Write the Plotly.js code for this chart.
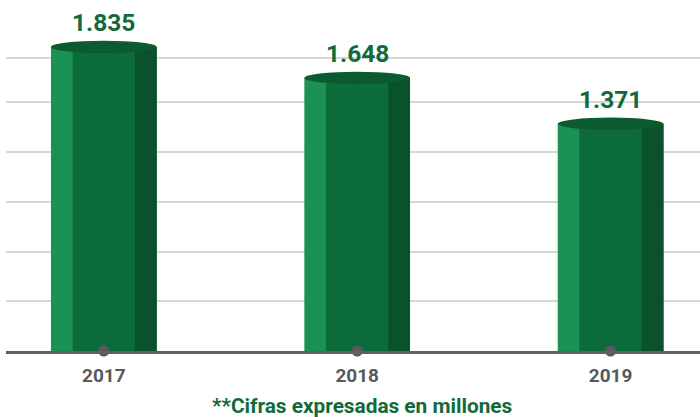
<!DOCTYPE html>
<html>
<head>
<meta charset="utf-8">
<script src="https://cdn.plot.ly/plotly-3.0.1.min.js"></script>
<style>
html,body{margin:0;padding:0;background:#fff;}
#chart{width:700px;height:417px;}
</style>
</head>
<body>
<div id="chart"></div>
<script>
// Data
const years = ['2017', '2018', '2019'];
const values = [1835, 1648, 1371];          // millions
const gridValues = [300, 600, 900, 1200, 1500, 1770];
const footnote = '**Cifras expresadas en millones';

// Styles
const LIGHT = '#1b9153', MID = '#0c6b3a', DARK = '#09522b', TOP = '#0b5b2f';
const GREEN_TEXT = '#0f6b3a', GRAY = '#58595b';
const BAR_W = 0.417, SIDE_W = 0.0856;

function fmt(v) {
  const s = String(Math.round(v));
  return s.replace(/\B(?=(\d{3})+(?!\d))/g, '.');
}

const traces = [
  { type: 'bar', x: years, y: values, width: years.map(() => BAR_W), offset: years.map(() => -BAR_W / 2),
    marker: { color: LIGHT, line: { width: 0 } }, hoverinfo: 'skip' },
  { type: 'bar', x: years, y: values, width: years.map(() => BAR_W - SIDE_W), offset: years.map(() => -BAR_W / 2 + SIDE_W),
    marker: { color: MID, line: { width: 0 } }, hoverinfo: 'skip' },
  { type: 'bar', x: years, y: values, width: years.map(() => SIDE_W), offset: years.map(() => BAR_W / 2 - SIDE_W),
    marker: { color: DARK, line: { width: 0 } }, hoverinfo: 'skip' },
  { type: 'scatter', mode: 'markers', x: years, y: years.map(() => 0), cliponaxis: false,
    marker: { color: GRAY, size: 11 }, hoverinfo: 'skip' }
];

const shapes = values.map((v, i) => ({
  type: 'circle', xref: 'x', yref: 'y',
  x0: i - BAR_W / 2, x1: i + BAR_W / 2,
  ysizemode: 'pixel', yanchor: v, y0: -6.2, y1: 6.2,
  fillcolor: TOP, line: { width: 0 }, layer: 'above'
}));

const annotations = values.map((v, i) => ({
  x: i, y: v, xref: 'x', yref: 'y', text: fmt(v), showarrow: false,
  yanchor: 'bottom', yshift: 8,
  font: { family: 'Roboto', size: 24.5, weight: 700, color: GREEN_TEXT }
}));
annotations.push({
  xref: 'paper', yref: 'paper', x: 0.513, y: 0, yanchor: 'top', yshift: -41,
  text: footnote, showarrow: false,
  font: { family: 'Roboto', size: 20.8, weight: 700, color: GREEN_TEXT }
});

const layout = {
  width: 700, height: 417,
  margin: { l: 6, r: 0, t: 0, b: 66 },
  paper_bgcolor: '#fff', plot_bgcolor: '#fff',
  barmode: 'overlay',
  showlegend: false,
  xaxis: {
    type: 'category', range: [-0.386, 2.353],
    showgrid: false, zeroline: false,
    showline: true, linecolor: '#5f6062', linewidth: 3,
    ticks: '', ticklabelstandoff: 5,
    tickfont: { family: 'Roboto', size: 19, weight: 700, color: GRAY },
    fixedrange: true
  },
  yaxis: {
    range: [0, 2118], tickmode: 'array', tickvals: gridValues,
    showticklabels: false, ticks: '',
    showgrid: true, gridcolor: '#d7d7d7', gridwidth: 2,
    zeroline: false, showline: false, fixedrange: true
  },
  shapes: shapes,
  annotations: annotations
};

Plotly.newPlot('chart', traces, layout, { displayModeBar: false, staticPlot: true });
</script>
</body>
</html>
